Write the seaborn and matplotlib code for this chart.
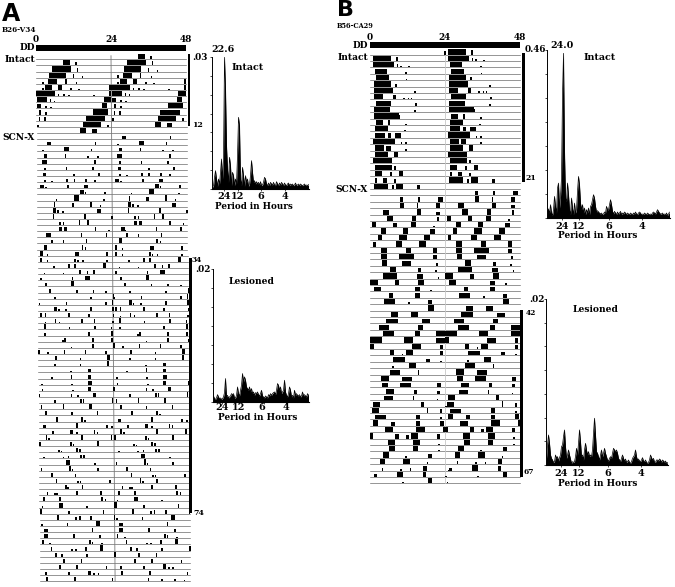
import matplotlib
matplotlib.use("Agg")
import matplotlib.pyplot as plt
from matplotlib.patches import Rectangle
import numpy as np
import pandas as pd
import seaborn as sns

W, H = 675, 587
SERIF = "DejaVu Serif"

# ---- activity bouts per circadian day: (onset hour, duration hours, relative height) ----
DAYS_A_INTACT = [
 [],
 [(8.6,2.3,.9),(12.5,.3,.6)],
 [(5.2,6,.9),(13,.4,.7)],
 [(4.2,5.5,.9),(11.7,.5,.6),(14.6,.25,.3)],
 [(2,.25,.4),(3.9,2.9,.9),(9.1,.6,.9),(12.7,.25,.3)],
 [(2,.3,.4),(2.9,2.2,.9),(7.1,1.1,.9),(10.9,.25,.3),(13.5,.25,.2),(23.4,.6,.8)],
 [(0,6,.85),(6.9,.4,.4),(8.7,.3,.3),(10.3,.25,.2),(18.3,.25,.2),(23.2,.8,.9)],
 [(.2,3.2,.9),(4.3,.3,.5),(5.6,.25,.3),(21.5,2.5,.9)],
 [(.2,1.2,.7),(2.9,.3,.4),(4.5,.25,.3),(21,1.6,.9)],
 [(.7,.8,.8),(2.9,.25,.5),(18,5,.9)],
 [(.7,.25,.6),(2.5,.3,.7),(15.7,6.3,.85)],
 [(.2,.25,.4),(14.8,5.7,.85),(22.6,.25,.4)],
 [(14,1.7,.9),(17.8,1.6,.7)],
 [],
]
DAYS_A_SCNX = [
 [(3.4,1.2,.6),(18.6,.4,.6)],
 [(1.8,.3,.3),(8.7,1.6,.7),(17.3,.3,.5)],
 [(2.3,1,.6),(9,.5,.6),(16.2,.25,.3),(19.4,.25,.3)],
 [(1.8,1.5,.6),(18.3,.6,.6)],
 [(2.3,.3,.4),(9.3,.5,.5),(17.8,.25,.5)],
 [(2,.8,.5),(11.7,.25,.3),(19.7,.25,.5)],
 [(2.4,.25,.3),(4.5,.25,.2),(9.3,.3,.5),(11.7,.4,.5),(15.4,.4,.6),(18.3,.25,.3)],
 [(1,1.3,.6),(2.6,.2,.2),(9.6,.3,.6),(15.1,1.1,.6)],
 [(13.9,1,.8),(15.2,.25,.4),(21.5,.3,.5)],
 [(6,.25,.3),(11.7,1.8,.9),(21.2,.3,.3)],
 [(5.3,.4,.8),(11,.9,.7),(17,.5,.9),(20,.25,.3)],
 [(5,1,.9),(6.4,.3,.5),(8,.3,.3),(19.2,1.3,.6)],
 [(4.9,.5,.9),(15,.5,.9),(23.7,.3,.5)],
 [(7.1,.4,.6),(8.2,.5,.6),(13.3,.5,.9),(16,.5,.9)],
 [(7,.8,.7),(8.4,1.2,.7),(18.3,.5,.7),(22.6,.25,.3)],
 [(2.9,1.3,.7),(3.9,.3,.3),(13.9,.4,.8),(21.8,.4,.8)],
 [(4.5,.4,.7),(8.1,.4,.6),(15.4,.4,.8)],
 [(2,1,.9),(14.1,.3,.8),(15.1,.3,.4)],
 [(.8,.8,.8),(3,.25,.3),(12,1.3,.7),(22,.3,.7)],
 [(.8,.7,.7),(2.9,.25,.3),(11.7,.5,.6),(12.6,.3,.3),(14.2,.4,.4),(22,.25,.3)],
 [(5,.25,.3),(9.8,.3,.7),(11.7,.7,.7),(21,.8,.9)],
 [(2,.25,.2),(8,.25,.2),(13.3,.3,.7),(15.7,.3,.5),(17.8,.4,.8)],
 [(.8,.7,.5),(10.9,.5,.6),(15.1,1.6,.8)],
 [(2.4,.4,.6),(10.7,1,.9)],
 [(3.6,.4,.7),(12.2,.3,.5),(17.5,.3,.5),(21.5,.25,.2)],
 [(5.3,.3,.3),(16.8,.3,.3),(23.9,.3,.8)],
 [(.2,.3,.4),(8.9,.4,.5),(21.5,.3,.5),(23.6,.4,.9)],
 [(5.2,.8,.8),(6.4,.25,.4),(8.8,.4,.4),(16.8,.4,.7),(23.7,.3,.8)],
 [(.7,.4,.8),(2.1,.4,.7),(9.5,.6,.8),(16,.6,.6),(23.9,.3,.6)],
 [(2.1,.3,.2),(5.4,.5,.7),(6.6,.25,.3),(13.9,.5,.7),(17.8,.5,.8),(23.7,.3,.4)],
 [(1.8,.8,.9),(9.8,.5,.4),(18,.5,.7),(23.3,.4,.5)],
 [(1.9,.3,.4),(16,.4,.7),(23.2,.7,.9)],
 [(7.7,.3,.3),(8.4,.5,.7),(17.3,.3,.6),(23.4,.3,.6)],
 [(10.4,.3,.2),(17.2,.5,.7),(23.8,.3,.5)],
 [(0,.2,.8),(2.9,.2,.3),(8.2,.5,.7),(14.9,.5,.7),(21.5,.4,.5)],
 [(5.4,.5,.7),(13.2,.4,.4),(22,.8,.9)],
 [(5.1,.4,.4),(13.2,.5,.4),(22.1,.5,.9)],
 [(10.2,.25,.2),(15.9,.8,.6)],
 [(4,.25,.2),(10.3,.4,.7),(15.9,.9,.6)],
 [(.8,.25,.2),(10.5,.25,.2),(15.9,1.2,.7)],
 [(1,.3,.3),(10.8,.3,.2),(15.8,1,.7),(23.8,.3,.7)],
]
DAYS_A_LATE = [
 [(0,.25,.5),(10.3,.4,.5),(12.4,.25,.3),(17.5,.9,.7)],
 [(4.8,.7,.5),(13.3,.3,.7),(14.1,.4,.7),(23.4,.3,.9)],
 [(.6,.6,.7),(7.7,.4,.9),(16.2,.7,.9)],
 [(2,.7,.7),(10.3,.5,.6),(18.6,.4,.7)],
 [(5.6,.25,.8),(13.6,.3,.8),(14.6,.25,.3)],
 [(1.2,1,.5),(11.9,.7,.8),(21.5,.25,.5),(23.2,.25,.3)],
 [(4.3,.3,.5),(10,.9,.7),(12,.25,.3),(17.5,.3,.7),(18.5,.25,.4)],
 [(2.1,.4,.8),(2.9,.4,.4),(13.4,.7,.8),(22.9,.4,.8)],
 [(0,.25,.8),(10,.4,.7),(10.8,.25,.3),(18.7,.5,.9)],
 [(6.2,.25,.4),(7,.25,.2),(11.9,.3,.8),(12.8,.4,.6)],
 [(1.4,.25,.2),(7.5,.25,.3),(9.2,.25,.4),(13.2,.3,.6),(14.2,.3,.6)],
 [(8.5,1.3,.8),(17.6,.25,.2)],
 [(.5,.25,.5),(9.6,.4,.9),(10.4,.25,.3),(18.6,.3,.5)],
 [(3.8,.25,.6),(11.4,.4,.5)],
 [(5.3,.25,.7),(12.2,.25,.4),(13,.25,.4),(22.3,.3,.5)],
 [(8.2,.25,.8),(9,.25,.3),(13.5,.4,.7)],
 [(2.4,.4,.6),(4.7,.25,.4),(5.4,.5,.4),(11.6,.7,.8),(19.4,.4,.7)],
 [(1.2,.3,.7),(6.2,.6,.7),(19.8,.4,.7),(20.9,.25,.5)],
 [(.7,.25,.2),(6.1,1.3,.8),(14.9,.25,.2),(23.9,.3,.9)],
 [(.3,.4,.9),(9.2,.5,.5),(20.2,.4,.6)],
 [(5.6,.4,.8),(11.4,.3,.5),(12.6,.4,.6),(16.2,.25,.6),(23.7,.5,.9)],
 [(.5,.25,.4),(8.7,.4,.5),(18,1.4,.9)],
 [(1.3,1.5,.6),(16.6,.3,.7)],
 [(1.4,1.2,.8),(10.7,.5,.7),(19,.5,.5)],
 [(.7,.5,.8),(3,.25,.3),(15.8,.5,.7),(16.6,.5,.5),(19.7,.25,.3)],
 [(3.5,.5,.7),(10,.25,.2),(11.3,.25,.2),(14.5,.4,.7),(19.3,1,.9)],
 [(4.9,.3,.7),(6.9,.3,.4),(14.9,.5,.5),(23.8,.4,.8)],
 [(7.4,.5,.7),(13.1,.4,.7)],
 [(6,.6,.7),(11.6,.7,.7),(21,.4,.5)],
 [(1.7,.4,.5),(9,.3,.5),(15.4,.9,.8),(17,.25,.3),(18.4,.3,.3)],
 [(1.9,.3,.8),(10.8,.6,.8),(22.9,.25,.5)],
 [(10.4,.3,.6),(14.7,.25,.4),(19,.25,.4),(22,.25,.3)],
]

DAYS_B_INTACT = [
 [(23.8,.2,.6)],
 [(1,5.7,.85),(8.3,.5,.7)],
 [(1,6.7,.85),(8.5,.4,.5),(9.6,.25,.3),(12.3,.25,.2)],
 [(1.6,3.9,.85),(11.3,.25,.3)],
 [(1.8,2.2,.8),(4.2,1.8,.85),(11.4,.25,.2)],
 [(1.2,5.4,.9),(8,.25,.5)],
 [(1.2,6.3,.9),(14.2,.25,.3)],
 [(1.2,3,.9),(7.4,1,.8),(10.6,.3,.3),(12,.3,.3),(13,.25,.3)],
 [(1.8,5,.85),(14.4,.25,.4)],
 [(1.4,5,.85),(14.2,.25,.3)],
 [(1.3,7.9,.85),(9.2,.25,.6)],
 [(1.8,2.4,.8),(5.8,.6,.8),(11.3,.25,.2)],
 [(1.6,4,.85),(10.9,.25,.2)],
 [(1.6,3.2,.85),(5.7,1.1,.8),(8,1.9,.8)],
 [(1.1,7,.9),(9.8,.3,.3),(11.2,.25,.3)],
 [(1.6,3,.85),(5,1.7,.8),(11.2,.3,.3)],
 [(1.6,4.3,.9),(7.8,1,.9)],
 [(1,5.9,.85)],
 [(1.6,5.4,.85),(7.8,.4,.6)],
 [(1.6,2.1,.8),(6.4,.6,.7),(9.3,1.2,.8)],
 [(1.6,.5,.7),(4,1.3,.7),(7.8,.4,.6)],
 [(1.3,4.6,.9),(7.1,.4,.6),(8.3,2.1,.9),(15.1,.8,.6)],
]
DAYS_B_SCNX = [
 [],
 [(9.6,1.1,.8),(15.5,.5,.8),(21.9,1.6,.8)],
 [(9.6,1.2,.9),(15,.5,.8),(21,1.5,.8)],
 [(4.3,1.9,.8),(15,1.4,.9),(21,1.4,.5)],
 [(5.3,1.9,.9),(13.3,1.4,.9),(21.5,.6,.7)],
 [(.5,1.4,.9),(7.5,1.2,.8),(13.1,1.6,.9),(20.3,.4,.3)],
 [(3.4,1.7,.9),(10.7,1.6,.9),(19.2,1.6,.8)],
 [(2.5,1.2,.9),(9.3,2.4,.9),(17.3,1.9,.9)],
 [(1,.9,.8),(8.3,1.8,.9),(15.8,2.1,.9)],
 [(3.4,2.1,.9),(11.5,1.5,.9),(20.3,1.2,.9)],
 [(3.5,1.8,.9),(9.3,4.7,.9),(20.3,1.2,.7)],
 [(3.7,1.6,.9),(10.2,2.9,.8),(21,.8,.5)],
 [(6.4,1.9,.9),(15.5,.9,.7),(20.8,.4,.3)],
 [(4,4.5,.85),(15,1.8,.7),(21.6,.5,.3)],
 [(0,2.7,.9),(8,1.4,.8),(15.5,1.8,.85)],
 [(1.3,2.1,.8),(14.4,1.6,.7),(19.2,.3,.3)],
 [(6.2,1.3,.8),(14.4,1.6,.8)],
 [(4.6,3.4,.85),(12.3,.3,.3),(18.4,1.4,.7)],
 [(18.7,1.8,.9)],
 [(6.6,2.5,.8),(13,2.5,.8)],
 [(5.1,4,.8),(16.6,2.7,.7)],
 [(3,3.2,.8),(15.5,1.5,.8)],
 [(4.3,3.4,.8),(14.4,1.6,.8),(21,2.9,.85)],
 [(0,3.9,.85),(10.9,2.8,.85),(21,2.9,.8)],
 [(0,1.3,.9),(13.3,3,.8),(22.3,.9,.7)],
 [(6.4,1.3,.9),(10.2,.3,.3),(11.5,2.2,.85),(22.3,1,.7)],
 [(7.5,3.7,.8),(17.8,1.4,.5),(22.5,.3,.2)],
 [(7,.8,.3),(12.6,2.1,.8),(13,.3,.3)],
 [(6.4,3.2,.8),(15.3,.5,.7)],
 [(3.4,2.8,.9),(10.3,3,.7)],
 [(3.7,2.2,.8),(9.6,3.5,.8),(21.5,1.1,.7)],
 [(5.1,2.6,.8),(14.1,.9,.7),(21.5,.8,.5)],
 [(4.6,2.7,.7),(13.6,.5,.7),(21.3,.25,.2)],
 [(.9,2.3,.8),(16.3,1,.8),(24,.1,.1)],
 [(.5,2.5,.8),(18.2,.4,.9),(22.4,.4,.6)],
 [(1.6,3.4,.7),(14.8,1.2,.8),(22.4,.5,.4)],
 [(1,1.4,.9),(6.6,1.4,.7),(14.6,1.5,.8),(22.4,1.2,.85)],
 [(4.8,2.5,.8),(14.8,2.9,.9),(23.2,.8,.9)],
 [(0,.8,.9),(8,1.4,.8),(11.5,.9,.6),(13.2,2.1,.9),(21.5,1,.7)],
 [(5.9,2.1,.9),(13.9,2,.9),(21.8,.25,.2)],
 [(6.2,1.8,.9),(13.9,1.6,.9),(21.8,.3,.2)],
 [(4.3,1.9,.9),(11.2,.25,.3),(18.4,1.3,.7)],
 [(3.2,1.6,.9),(10.5,2.2,.9),(18.1,.4,.3)],
 [(3.7,.5,.5),(9.6,.5,.3),(12.7,.4,.4),(17,1.3,.8),(25,.1,.1)],
 [(1.3,1,.5),(8.6,1.9,.9),(16.9,1,.8),(24,.1,.1)],
 [(10.3,.25,.2),(18.5,1.3,.9)],
]
EXTRA_B = [(0.6,.5,.3)]

# ---- periodogram power, one value per period bin ----
POWER_A_INTACT = [5,10,35,55,30,8,30,15,50,90,30,90,395,300,130,60,20,95,70,10,50,40,10,30,15,100,215,190,30,10,65,40,8,40,20,30,8,15,40,85,50,20,25,15,22,15,20,12,22,10,12,20,35,30,15,10,18,10,20,15,12,20,12,10,22,15,10,18,12,20,15,10,18,12,10,15,18,10,15,12,15,10,12,18,10,12,15,10,15,12,10,12,15,10,12,10,14]
POWER_A_LESION = [18,10,8,12,22,15,10,12,8,10,15,28,70,15,20,12,15,18,25,22,25,12,12,20,45,25,18,35,50,85,60,75,65,45,40,35,45,30,40,25,30,20,28,25,30,22,18,25,35,18,15,12,18,15,12,22,18,25,20,25,28,30,22,35,55,50,35,45,25,30,35,65,30,20,15,25,45,35,15,20,12,35,20,25,20,18,22,15,18,30,18,22,18,15,25,20]
POWER_B_INTACT = [30,25,15,40,15,8,25,65,35,15,90,105,30,65,120,370,495,200,60,50,105,70,25,10,60,30,10,45,15,25,80,125,100,45,25,40,15,30,10,25,15,30,10,35,40,55,70,60,35,18,22,18,15,12,15,10,12,18,15,35,25,25,40,55,40,20,12,20,15,10,18,12,15,20,10,15,12,18,15,10,15,12,10,15,12,10,15,12,18,12,10,15,18,15,10,12,10,15,12,10,15,12,10,12,10,15,18,15,12,18,25,20,15,12,12,15,10,12,10,15,8,12,18]
POWER_B_LESION = [20,60,90,65,30,20,15,8,10,30,20,25,12,22,30,55,60,85,105,55,20,30,45,30,18,5,10,8,10,25,50,30,65,105,70,25,30,15,45,65,45,30,40,25,30,25,45,95,140,90,40,35,25,15,30,45,25,35,50,35,25,15,12,20,25,20,35,50,45,40,45,35,20,15,10,20,30,20,12,18,8,10,15,8,5,10,20,25,30,45,25,15,18,12,10,15,22,12,10,15,8,5,8,15,30,22,15,20,8,8,15,15,12,18,15,8,15,12,8,12,5,8]

PERIOD_LABELS = ["24", "12", "6", "4"]
HOUR_LABELS = ["0", "24", "48"]

sns.set_theme(style="white", rc={"font.family": SERIF, "font.weight": "bold"})
fig = plt.figure(figsize=(W / 100, H / 100), dpi=100, facecolor="white")


def box(x, y, w, h):
    return fig.add_axes([x / W, 1 - (y + h) / H, w / W, h / H])


def label(x, y, s, size=6.4, ha="left", **kw):
    kw.setdefault("family", SERIF)
    kw.setdefault("weight", "bold")
    fig.text(x / W, 1 - y / H, s, fontsize=size, ha=ha, va="center", color="black", **kw)


def vbar(x0, x1, y0, y1):
    fig.add_artist(Rectangle((x0 / W, 1 - y1 / H), (x1 - x0) / W, (y1 - y0) / H,
                             transform=fig.transFigure, color="black", lw=0))


def actogram(days, px, row0, step, skew, line_grey, vline_grey):
    nrows = len(days) - 1
    ax = box(px[0], row0 - step, px[1] - px[0], step * nrows)
    rows = []
    for d, bouts in enumerate(days):
        for t, dur, h in bouts:
            if d < nrows:
                rows.append((t, dur, h, d))
            if d >= 1:
                rows.append((t + 24, dur, h, d - 1))
    df = pd.DataFrame(rows, columns=["x", "dur", "h", "row"])
    base = pd.DataFrame({"row": np.repeat(np.arange(nrows), 2),
                         "x": np.tile([0, 48], nrows)}, dtype=float)
    base["x"] += base["row"] * skew
    sns.lineplot(data=base, x="x", y="row", units="row", estimator=None, color=line_grey,
                 lw=0.7, ax=ax, legend=False, zorder=1, clip_on=False)
    ax.plot([24, 24 + nrows * skew], [-0.6, nrows - 1], color=vline_grey, lw=0.6, zorder=1, clip_on=False)
    ax.bar(df["x"] + df["row"] * skew, -df["h"] * 0.92, width=df["dur"].clip(lower=0.5), bottom=df["row"],
           align="edge", color="black", lw=0, zorder=3, clip_on=False)
    ax.set_xlim(0, 48)
    ax.set_ylim(nrows - 1, -1)
    ax.axis("off")
    return ax


def topbar(x, y, w, h, name_x, tick_y):
    ax = box(x, y, w, h)
    ax.barh([0], [48], height=1, color="black", lw=0, align="edge")
    ax.set_xlim(0, 48)
    ax.set_ylim(0, 1)
    ax.axis("off")
    for hr, s in zip([0, 24, 48], HOUR_LABELS):
        label(x + w * hr / 48, tick_y, s, ha="center")
    label(name_x, y + h / 2, "DD", ha="right")


def spectrum(power, x, top, bottom, right, ymax, tick_px, label_y, tick_n=8):
    ax = box(x, top, right - x, bottom - top)
    bins = np.arange(len(power)) + 0.5
    df = pd.DataFrame({"bin": bins, "power": power})
    sns.lineplot(data=df, x="bin", y="power", color="black", lw=0.5, ax=ax, legend=False)
    ax.fill_between(df["bin"], 0, df["power"], color="black", lw=0)
    ax.set_xlim(0, right - x)
    ax.set_ylim(0, ymax)
    ax.set_xlabel("")
    ax.set_ylabel("")
    ax.set_xticks([p - x for p in tick_px])
    ax.set_xticklabels([])
    ax.set_yticks(np.linspace(0, ymax, tick_n))
    ax.set_yticklabels([])
    ax.tick_params(axis="both", length=1.2, width=0.5, pad=1, left=True, bottom=True, color="black")
    sns.despine(ax=ax, top=True, right=True)
    ax.spines["left"].set_linewidth(0.7)
    ax.spines["left"].set_color("black")
    ax.spines["bottom"].set_linewidth(0.8)
    ax.spines["bottom"].set_color("black")
    ax.patch.set_alpha(0)
    for p, s in zip(tick_px, PERIOD_LABELS):
        label(p, label_y, s, size=7, ha="center")
    return ax


# ---- panel A ----
label(2, 14, "A", size=17, family="DejaVu Sans")
label(2, 30, "B26-V34", size=5.2)
topbar(36, 45, 150, 6, 35, 39)
actogram(DAYS_A_INTACT + DAYS_A_SCNX + DAYS_A_LATE, (36, 186), 59.3, 6.14, 1.3 / 85, "#949494", "#777777")
label(35, 60, "Intact", ha="right", size=6.6)
label(35, 138, "SCN-X", ha="right", size=6.6)
vbar(187.5, 190, 54, 126)
vbar(189, 192, 258, 513)
label(192, 125, "12", size=5.6)
label(192, 260, "34", size=5.4)
label(193, 513, "74", size=5.6)
label(208, 58, ".03", ha="right", size=6.4)
label(195, 269, ".02", size=6.4)
spectrum(POWER_A_INTACT, 212, 57, 189, 309, 396, [224, 238, 261, 285], 197)
label(223, 49, "22.6", ha="center", size=6.8)
label(248, 67, "Intact", ha="center", size=6.8)
label(254, 207, "Period in Hours", ha="center", size=6.3)
spectrum(POWER_A_LESION, 213, 269, 402, 309, 397, [222, 239, 262, 286], 407)
label(252, 282, "Lesioned", ha="center", size=6.6)
label(258, 418, "Period in Hours", ha="center", size=6.4)

# ---- panel B ----
label(337, 9.5, "B", size=16, family="DejaVu Sans")
label(337, 26, "B56-CA29", size=4.8)
topbar(370, 42, 150, 6, 368, 37)
actogram(DAYS_B_INTACT + DAYS_B_SCNX + [EXTRA_B], (370, 520), 54.5, 6.4, 0, "#949494", "#c8c8c8")
label(368, 58, "Intact", ha="right", size=6.6)
label(368, 190, "SCN-X", ha="right", size=6.6)
vbar(522, 525, 53, 182)
vbar(520, 523, 310, 477)
label(526, 178, "21", size=5.6)
label(526, 313, "42", size=5.4)
label(524, 472, "67", size=5.4)
label(546, 49, "0.46", ha="right", size=6.4)
label(545, 299, ".02", ha="right", size=6.4)
spectrum(POWER_B_INTACT, 547, 50, 218, 670, 505, [562, 579, 609, 642], 226)
label(562, 45, "24.0", ha="center", size=6.8)
label(600, 57, "Intact", ha="center", size=6.8)
label(598, 236, "Period in Hours", ha="center", size=6.4)
spectrum(POWER_B_LESION, 546, 299, 465, 668, 497, [561, 579, 608, 641], 473)
label(596, 309, "Lesioned", ha="center", size=6.6)
label(598, 483, "Period in Hours", ha="center", size=6.4)

fig.savefig("out.png", dpi=100, facecolor="white")
